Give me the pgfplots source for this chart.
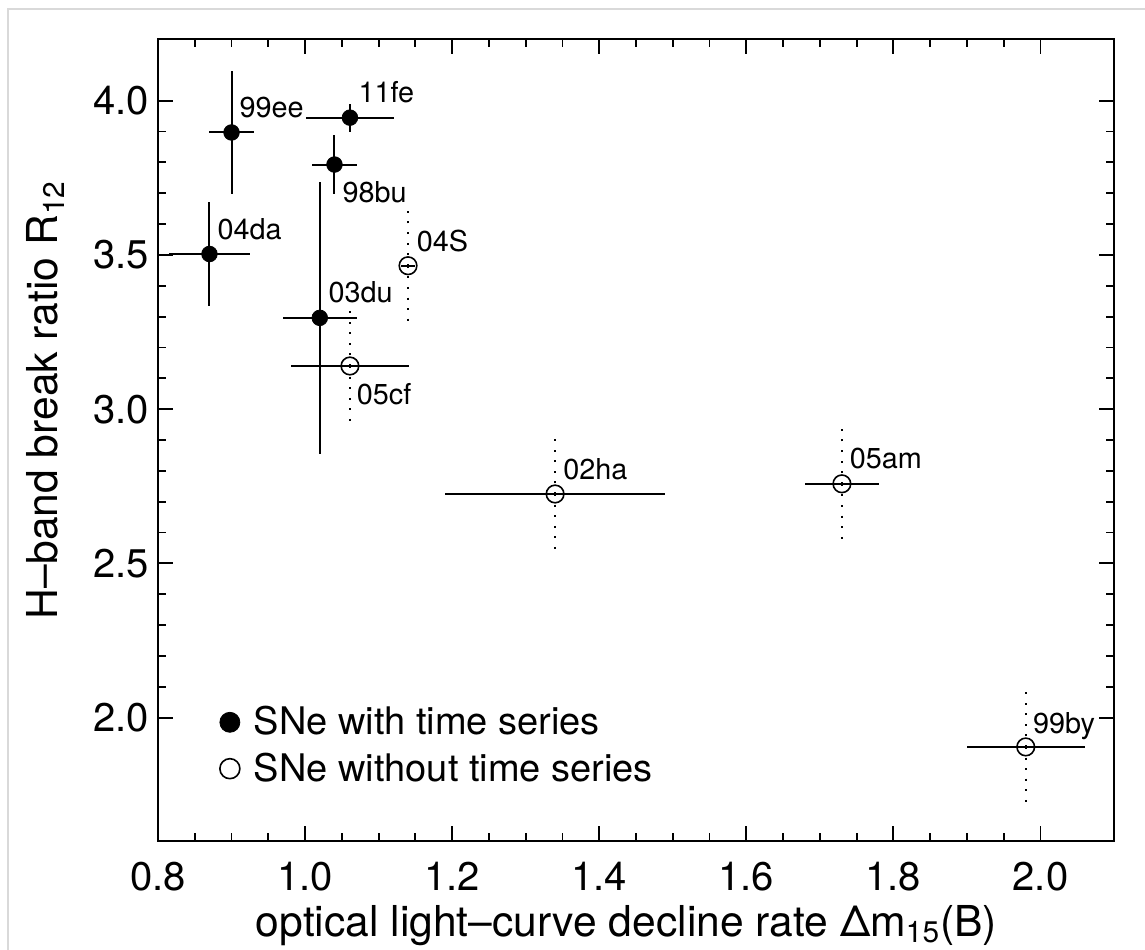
\documentclass[border=0pt]{standalone}
\usepackage{fontspec}
\setmainfont{TeX Gyre Heros}
\usepackage{pgfplots}
\pgfplotsset{compat=1.18}
\usepackage{pgfplotstable}

% SNe with time series
\pgfplotstableread{
x     y     ex    ey
0.900 3.897 0.030 0.198
1.061 3.945 0.060 0.045
1.040 3.793 0.030 0.097
0.870 3.503 0.055 0.170
1.020 3.296 0.050 0.440
}\withts

% SNe without time series
\pgfplotstableread{
x     y     ex    ey
1.140 3.465 0.010 0.190
1.061 3.140 0.080 0.190
1.340 2.725 0.150 0.190
1.730 2.758 0.050 0.190
1.980 1.905 0.080 0.185
}\withoutts

\begin{document}
\begin{tikzpicture}
\useasboundingbox (-79pt,-54pt) rectangle (493.5pt,420.5pt);
\draw[black!15, line width=1pt] (-75pt,-60pt) -- (-75pt,416pt) -- (500pt,416pt);
\begin{axis}[
  scale only axis, width=478pt, height=401pt,
  xmin=0.8, xmax=2.1, ymin=1.6, ymax=4.2,
  xtick={0.8,1.0,1.2,1.4,1.6,1.8,2.0}, minor x tick num=3,
  ytick={2.0,2.5,3.0,3.5,4.0}, minor y tick num=4,
  tick align=inside,
  major tick length=7.5pt, minor tick length=4pt,
  every tick/.style={black, line width=0.9pt},
  axis line style={black, line width=1pt},
  /pgf/number format/assume math mode=true,
  /pgf/number format/.cd, fixed, fixed zerofill, precision=1, /pgfplots/.cd,
  tick label style={font=\fontsize{20}{22}\selectfont, black},
  xticklabel style={yshift=-7pt},
  yticklabel style={xshift=-1pt},
  xlabel={optical light–curve decline rate Δm\textsubscript{15}(B)},
  ylabel={H–band break ratio R\textsubscript{12}},
  label style={font=\fontsize{21.3}{24}\selectfont},
  xlabel style={at={(axis description cs:0.49,0)}, anchor=north, yshift=-28.5pt},
  ylabel style={at={(axis description cs:-0.118,0.55)}, anchor=center},
  error bars/error mark=none,
  legend style={draw=none, fill=none, at={(axis cs:0.8836,2.05)}, anchor=north west,
    font=\fontsize{19}{22}\selectfont, row sep=3.5pt, column sep=5pt, inner sep=0pt},
  legend cell align=left,
]
\addlegendimage{only marks, mark=*, mark size=5pt, black}
\addlegendentry{SNe with time series}
\addlegendimage{only marks, mark=o, mark size=5pt, black, mark options={line width=0.8pt}}
\addlegendentry{SNe without time series}

% open circles: x error bars (solid)
\addplot[forget plot, draw=none, mark=none, black,
  error bars/.cd, x dir=both, x explicit,
  error bar style={line width=1pt, black}]
  table[x=x, y=y, x error=ex] {\withoutts};
% open circles: y error bars (dotted) and marks
\addplot[forget plot, only marks, mark=o, mark size=4.4pt, black,
  mark options={line width=0.8pt},
  error bars/.cd, y dir=both, y explicit,
  error bar style={line width=1.1pt, black, dash pattern=on 1pt off 4.3pt}]
  table[x=x, y=y, y error=ey] {\withoutts};

% filled circles
\addplot[forget plot, only marks, mark=*, mark size=3.9pt, black,
  error bars/.cd, x dir=both, x explicit, y dir=both, y explicit,
  error bar style={line width=1pt, black}]
  table[x=x, y=y, x error=ex, y error=ey] {\withts};

\begin{scope}[every node/.style={anchor=base west, inner sep=0pt, font=\fontsize{14.4}{16}\selectfont}]
\node at (axis cs:0.9105,3.9445) {99ee};
\node at (axis cs:1.0722,3.9955) {11fe};
\node at (axis cs:1.0504,3.671) {98bu};
\node at (axis cs:0.8806,3.5497) {04da};
\node at (axis cs:1.1515,3.5107) {04S};
\node at (axis cs:1.0314,3.346) {03du};
\node at (axis cs:1.070,3.016) {05cf};
\node at (axis cs:1.3507,2.7705) {02ha};
\node at (axis cs:1.7402,2.807) {05am};
\node at (axis cs:1.9893,1.950) {99by};
\end{scope}
\end{axis}
\end{tikzpicture}
\end{document}
